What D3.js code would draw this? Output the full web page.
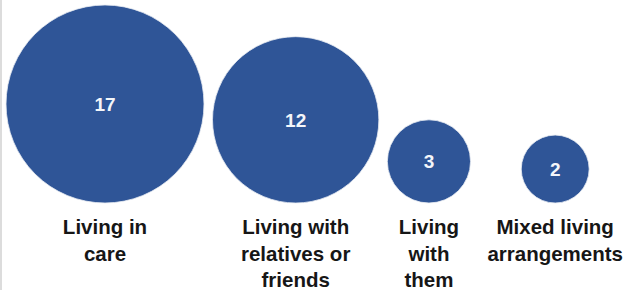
<!DOCTYPE html>
<html>
<head>
<meta charset="utf-8">
<script src="https://cdn.jsdelivr.net/npm/d3@7"></script>
<style>
  body { margin: 0; background: #fff; }
  svg { display: block; }
</style>
</head>
<body>
<div id="chart"></div>
<script>
/* global d3 */

// Data
const categories = ['Living in care', 'Living with relatives or friends', 'Living with them', 'Mixed living arrangements']
const values = [17, 12, 3, 2]
const labelLines = [
    ['Living in', 'care'],
    ['Living with', 'relatives or', 'friends'],
    ['Living', 'with', 'them'],
    ['Mixed living', 'arrangements']
]

// Canvas
const width = 626,
    height = 290,
    left = 6,
    right = 623,
    gap = 8.5,
    baseY = 203

let svg = d3.select('#chart')
    .append('svg')
    .attr('width', width)
    .attr('height', height)
    .style('background', '#fff')

// thin grey edge on the left
svg.append('rect')
    .attr('x', 0).attr('y', 0)
    .attr('width', 2).attr('height', height)
    .attr('fill', '#dcdcdc')

// area-proportional radius
const rScale = d3.scaleSqrt()
    .domain([0, d3.max(values)])
    .range([0, 99])

// labels first, so their widths can be measured for the layout
let labels = svg.selectAll('text.cat')
    .data(labelLines)
    .enter()
    .append('text')
    .attr('class', 'cat')
    .attr('text-anchor', 'middle')
    .style('font-family', '"Liberation Sans", Arial, sans-serif')
    .style('font-weight', 'bold')
    .style('font-size', '20.5px')
    .attr('fill', '#161616')

labels.selectAll('tspan')
    .data(d => d)
    .enter()
    .append('tspan')
    .attr('x', 0)
    .attr('y', (d, i) => 234 + i * 26.5)
    .text(d => d)

// column width = max(circle diameter, widest label line)
let colW = []
labels.each(function (d, i) {
    let w = 0
    d3.select(this).selectAll('tspan').each(function () {
        w = Math.max(w, this.getComputedTextLength())
    })
    colW.push(Math.max(w, rScale(values[i]) * 2))
})

// columns packed from the left with a fixed gap, last one pinned to the right edge
let centers = []
let pos = left
colW.forEach((w, i) => {
    if (i === colW.length - 1) {
        centers.push(right - w / 2)
    } else {
        centers.push(pos + w / 2)
        pos += w + gap
    }
})

labels.attr('transform', (d, i) => `translate(${centers[i]},0)`)

// circles
svg.selectAll('circle')
    .data(values)
    .enter()
    .append('circle')
    .attr('cx', (d, i) => centers[i])
    .attr('cy', d => baseY - rScale(d))
    .attr('r', d => rScale(d))
    .attr('fill', '#2f5597')
    .attr('stroke', '#e8ecf2')
    .attr('stroke-width', 0.8)

// value labels
svg.selectAll('text.val')
    .data(values)
    .enter()
    .append('text')
    .attr('class', 'val')
    .attr('x', (d, i) => centers[i])
    .attr('y', d => baseY - rScale(d))
    .attr('dy', '0.36em')
    .attr('text-anchor', 'middle')
    .style('font-family', '"Liberation Sans", Arial, sans-serif')
    .style('font-weight', 'bold')
    .style('font-size', '19px')
    .attr('fill', '#f4f6fa')
    .text(d => d)
</script>
</body>
</html>
